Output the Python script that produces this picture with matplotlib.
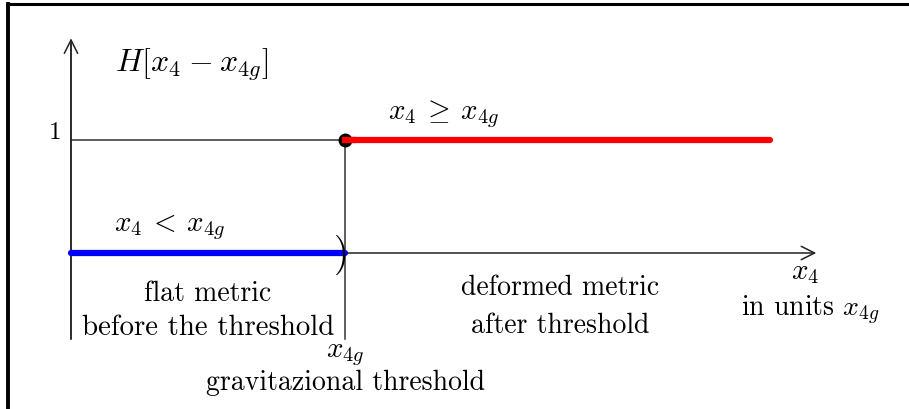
import matplotlib
matplotlib.use("Agg")
import matplotlib.pyplot as plt
from matplotlib.lines import Line2D

plt.rcParams["font.family"] = "cmr10"
plt.rcParams["mathtext.fontset"] = "cm"
plt.rcParams["axes.formatter.use_mathtext"] = True

# Heaviside step H[x4 - x4g], x4 measured in units of x4g
x_threshold = 1.0
x_before = [0.0, 1.0]
h_before = [0.0, 0.0]
x_after = [1.0, 2.55]
h_after = [1.0, 1.0]
x_axis_end = 2.72
y_axis_top = 1.90
y_axis_bottom = -0.76

fig = plt.figure(figsize=(9.09, 4.10), dpi=100)
ax = fig.add_axes([0, 0, 1, 1])
ax.set_xlim(-71 / 274, (909 - 71) / 274)
ax.set_ylim((254 - 410) / 113, 254 / 113)
ax.axis("off")

axis_kw = dict(color="#333333", lw=1.1, linestyle="-")

# axes with open arrowheads
ax.annotate("", xy=(0, y_axis_top), xytext=(0, y_axis_bottom),
            arrowprops=dict(arrowstyle="->", color="#222222", lw=1.1,
                            mutation_scale=24, shrinkA=0, shrinkB=0))
ax.annotate("", xy=(x_axis_end, 0), xytext=(x_threshold, 0),
            arrowprops=dict(arrowstyle="->", color="#222222", lw=1.1,
                            mutation_scale=24, shrinkA=0, shrinkB=0))
ax.plot([0, 0], [y_axis_bottom, y_axis_top - 0.05], **axis_kw)

# guide lines at the threshold and at level 1
ax.plot([x_threshold, x_threshold], [y_axis_bottom, 1.0], **axis_kw)
ax.plot([0, x_threshold], [1.0, 1.0], **axis_kw)

# the two branches of the step
ax.plot(x_before, h_before, color="#0000ff", lw=4.5, solid_capstyle="round", zorder=3)
ax.plot(x_after, h_after, color="#ff0000", lw=4.5, solid_capstyle="round", zorder=3)
ax.plot([x_threshold], [1.0], "o", color="black", ms=9, zorder=4)
ax.plot(x_after[:1] + [x_after[0] + 0.03], h_after, color="#ff0000", lw=4.5, zorder=5)
ax.text(x_threshold - 0.014, -0.01, ")", fontsize=28, ha="center", va="center", zorder=5)

fs = 20
ax.text(0.16, 1.67, r"$H[x_4\:-\:x_{4g}]$", fontsize=23, ha="left", va="center")
ax.text(-0.058, 1.07, "1", fontsize=18, ha="center", va="center")
ax.text(1.36, 1.24, r"$x_4\:\geq\:x_{4g}$", fontsize=21, ha="center", va="center")
ax.text(0.36, 0.24, r"$x_4\:<\:x_{4g}$", fontsize=21, ha="center", va="center")
ax.text(0.50, -0.35, "flat metric", fontsize=fs, ha="center", va="center")
ax.text(0.50, -0.65, "before the threshold", fontsize=fs + 0.8, ha="center", va="center")
ax.text(1.785, -0.30, "deformed metric", fontsize=fs, ha="center", va="center")
ax.text(1.785, -0.64, "after threshold", fontsize=fs, ha="center", va="center")
ax.text(2.68, -0.17, r"$x_4$", fontsize=21, ha="center", va="center")
ax.text(2.70, -0.50, r"in units $x_{4g}$", fontsize=fs, ha="center", va="center")
ax.text(x_threshold, -0.89, r"$x_{4g}$", fontsize=21, ha="center", va="center")
ax.text(x_threshold, -1.14, "gravitazional threshold", fontsize=fs, ha="center", va="center")

# frame: top and left edges
fig.add_artist(Line2D([8 / 909, 908 / 909], [1 - 5 / 410, 1 - 5 / 410],
                      color="black", lw=2.2, transform=fig.transFigure))
fig.add_artist(Line2D([8 / 909, 8 / 909], [0, 1 - 5 / 410],
                      color="black", lw=2.8, transform=fig.transFigure))

fig.savefig("out.png", dpi=100)
